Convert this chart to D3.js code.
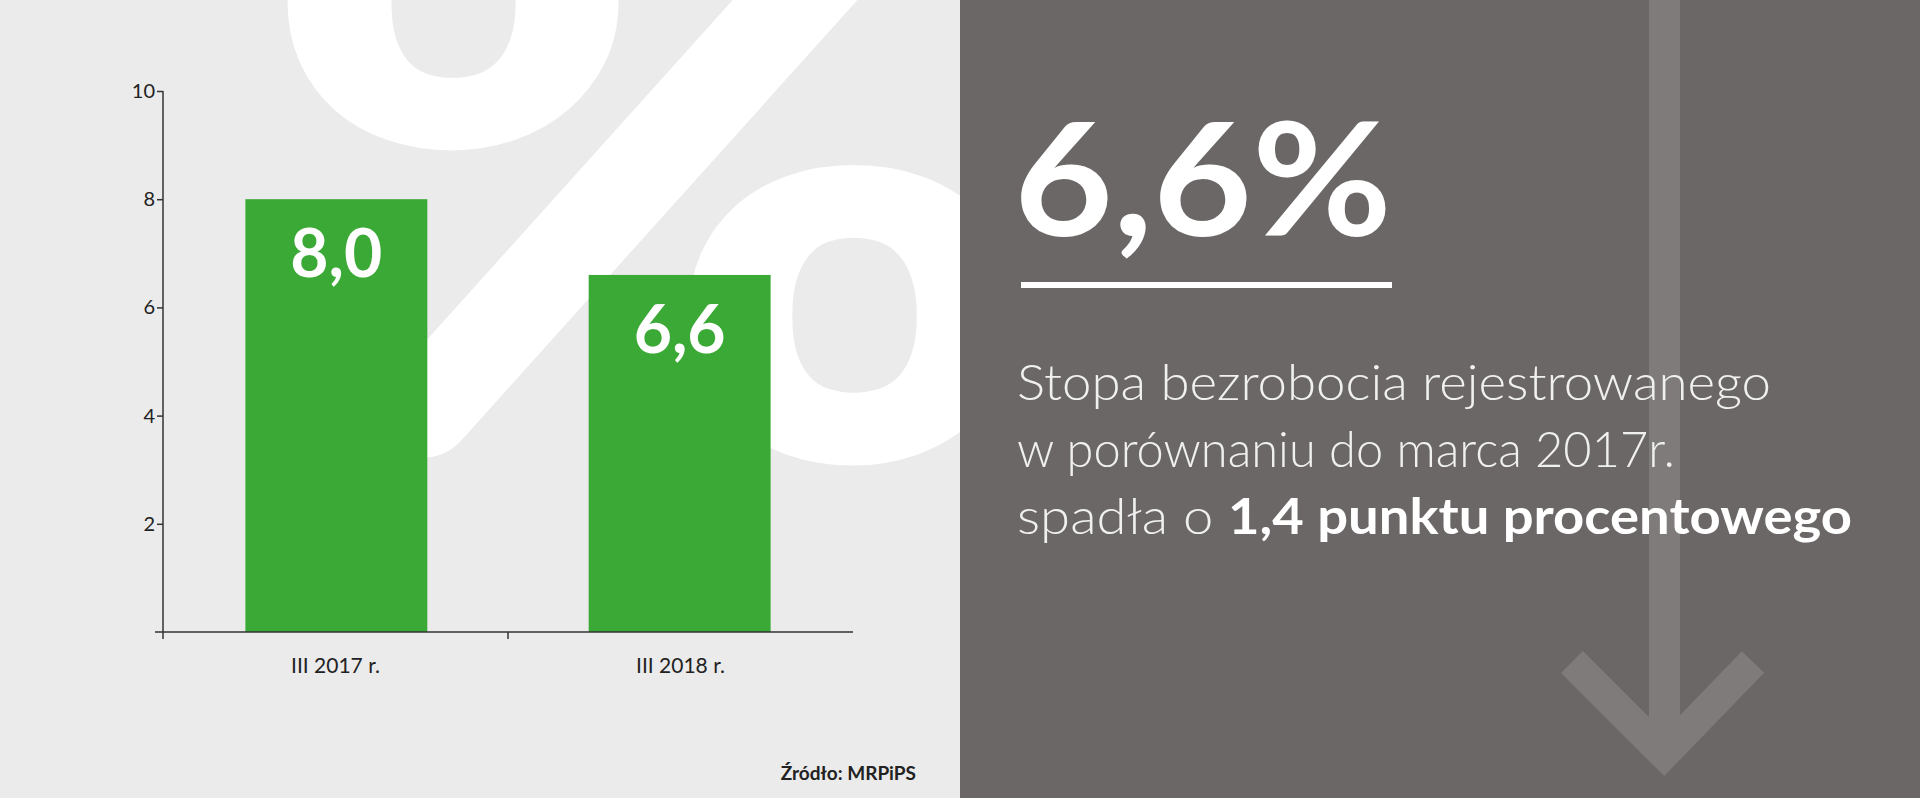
<!DOCTYPE html>
<html><head><meta charset="utf-8">
<script src="https://cdn.jsdelivr.net/npm/d3@7"></script>
<style>body{margin:0;background:#fff}svg{display:block}</style>
</head><body>
<script>
const categories = ["III 2017 r.", "III 2018 r."];
const values = [8.0, 6.6];
const valueLabels = ["8,0", "6,6"];
const yTicks = [2, 4, 6, 8, 10];
const headline = "6,6%";
const source = "Źródło: MRPiPS";

const W = 1920, H = 810;
const svg = d3.select("body").append("svg").attr("width", W).attr("height", H);
svg.append("rect").attr("width", W).attr("height", H).attr("fill", "#fff");
svg.append("rect").attr("x", 0).attr("y", 0).attr("width", 960).attr("height", 798).attr("fill", "#ebebeb");
svg.append("clipPath").attr("id", "lc").append("rect").attr("width", 960).attr("height", 798);
svg.append("g").attr("clip-path", "url(#lc)").append("text")
  .attr("transform", "translate(252,458) scale(1.17,1)")
  .attr("font-family", "Lato").attr("font-weight", 900).attr("font-size", 830)
  .attr("fill", "#fff").text("%");

const gr = svg.append("g");
gr.append("rect").attr("x", 960).attr("y", 0).attr("width", 960).attr("height", 798).attr("fill", "#6b6766");
gr.append("rect").attr("x", 1649).attr("y", 0).attr("width", 31).attr("height", 755).attr("fill", "#7e7b7a");
gr.append("path").attr("d", "M1572,662 L1664,754 L1753,662").attr("fill", "none")
  .attr("stroke", "#7e7b7a").attr("stroke-width", 31);

const x = d3.scaleBand().domain(categories).range([163, 853]).paddingInner(0.47).paddingOuter(0.24);
const xa = d3.scalePoint().domain(categories).range([163, 853]).padding(0.5);
const y = d3.scaleLinear().domain([0, 10]).range([632, 91]);

svg.selectAll(".bar").data(values).enter().append("rect")
  .attr("x", (d, i) => x(categories[i])).attr("width", x.bandwidth())
  .attr("y", d => y(d)).attr("height", d => y(0) - y(d)).attr("fill", "#3aa935");
svg.selectAll(".vl").data(values).enter().append("text")
  .attr("x", (d, i) => x(categories[i]) + x.bandwidth() / 2).attr("y", d => y(d) + 78)
  .attr("text-anchor", "middle").attr("font-family", "Lato").attr("font-weight", 700)
  .attr("font-size", 66).attr("fill", "#fff").text((d, i) => valueLabels[i]);

const ya = svg.append("g").attr("transform", "translate(163,0)")
  .call(d3.axisLeft(y).tickValues(yTicks).tickSize(8).tickSizeOuter(0));
ya.select(".domain").attr("d", "M0,91V632").attr("stroke", "#333").attr("stroke-width", 1.5);
ya.selectAll("line").attr("stroke", "#333").attr("stroke-width", 1.5).attr("x2", -6).attr("x1", 0);
ya.selectAll("text").attr("font-family", "Lato").attr("font-size", 20).attr("fill", "#222").attr("x", -8);

const xg = svg.append("g").attr("transform", "translate(0,632)");
xg.append("line").attr("x1", 155).attr("x2", 853).attr("stroke", "#333").attr("stroke-width", 1.5);
xg.selectAll(".t").data([163, 508]).enter().append("line").attr("x1", d => d).attr("x2", d => d)
  .attr("y1", 0).attr("y2", 7).attr("stroke", "#333").attr("stroke-width", 1.5);
xg.selectAll(".xl").data(categories).enter().append("text")
  .attr("x", d => xa(d)).attr("y", 41).attr("text-anchor", "middle")
  .attr("font-family", "Lato").attr("font-size", 21).attr("fill", "#222").text(d => d);

svg.append("text").attr("x", 916).attr("y", 780).attr("text-anchor", "end")
  .attr("font-family", "Lato").attr("font-weight", 700).attr("font-size", 19).attr("fill", "#222").text(source);

svg.append("text").attr("x", 1014).attr("y", 236).attr("font-family", "Lato").attr("font-weight", 700)
  .attr("font-size", 158).attr("fill", "#fff").attr("textLength", 378).attr("lengthAdjust", "spacingAndGlyphs").text(headline);
svg.append("rect").attr("x", 1021).attr("y", 282).attr("width", 371).attr("height", 6).attr("fill", "#fff");

const lines = [
  [["Stopa bezrobocia rejestrowanego", 300]],
  [["w porównaniu do marca 2017r.", 300]],
  [["spadła o ", 300], ["1,4 punktu procentowego", 700]]
];
const lens = [754, 658, 835];
lines.forEach((ln, i) => {
  const t = svg.append("text").attr("x", 1017).attr("y", 400 + i * 67)
    .attr("font-family", "Lato").attr("font-size", 50).attr("fill", "#f2f2f2")
    .attr("textLength", lens[i]).attr("lengthAdjust", "spacingAndGlyphs");
  ln.forEach(([s, w]) => t.append("tspan").attr("font-weight", w).attr("fill", w > 400 ? "#fff" : "#f0f0f0").text(s));
});
</script>
</body></html>
